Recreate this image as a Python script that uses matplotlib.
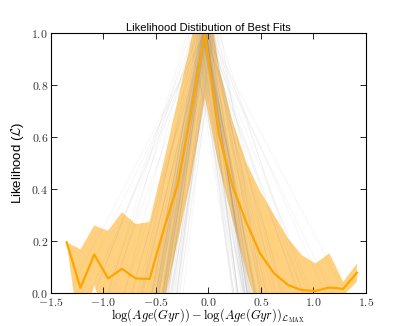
import numpy as np
import matplotlib
matplotlib.use("Agg")
import matplotlib.pyplot as plt
from matplotlib.ticker import FuncFormatter

plt.rcParams['mathtext.fontset'] = 'cm'

# binned likelihood (mean and 1-sigma band)
x_bins = [-1.35, -1.218, -1.087, -0.955, -0.823, -0.692, -0.560, -0.428, -0.296,
          -0.165, -0.033, 0.098, 0.230, 0.362, 0.494, 0.625, 0.757, 0.889,
          1.020, 1.152, 1.284, 1.415]
mean_L = [0.194, 0.019, 0.147, 0.055, 0.092, 0.055, 0.053, 0.24, 0.41,
          0.69, 1.0, 0.61, 0.41, 0.27, 0.15, 0.075, 0.03, 0.01,
          0.007, 0.02, 0.015, 0.077]
upper_L = [0.194, 0.167, 0.259, 0.238, 0.31, 0.264, 0.272, 0.50, 0.735,
           0.97, 1.25, 0.87, 0.66, 0.50, 0.39, 0.30, 0.21, 0.145,
           0.113, 0.152, 0.042, 0.113]
lower_L = [0.194, -0.185, 0.03, -0.13, -0.13, -0.15, -0.17, -0.05, 0.19,
           0.44, 0.75, 0.49, 0.28, 0.08, -0.10, -0.15, -0.14, -0.12,
           -0.10, -0.10, -0.012, 0.042]

# individual fits: peak offset, left and right half-widths of each curve
fit_peak = [-0.03, -0.05, 0.0, -0.08, 0.02, -0.03, -0.1, 0.03, -0.04, -0.06,
            -0.02, 0.01, -0.03, -0.07, 0.04, -0.05, -0.01, -0.03, -0.12, 0.0,
            -0.03, -0.04, 0.02, -0.09, -0.03, -0.02, 0.05, -0.06, -0.03, -0.01,
            -0.03, -0.15, 0.08, -0.03, -0.05, 0.0, -0.2, 0.1, -0.03, -0.04,
            -0.02, -0.06, 0.01, -0.04, -0.03, -0.08, 0.03, -0.01, -0.05, -0.03,
            0.0, -0.07, -0.02, -0.04, 0.02, -0.03, -0.11, 0.05, -0.03, -0.06,
            -0.01, -0.04, -0.03, 0.01, -0.09, -0.02, -0.03, 0.04, -0.05, -0.03,
            -0.13, 0.06, -0.03, -0.02, -0.04, 0.0, -0.18, 0.12, -0.03, -0.05]
fit_left = [0.38, 0.42, 0.30, 0.45, 0.36, 0.50, 0.40, 0.33, 0.55, 0.44,
            0.39, 0.35, 0.60, 0.47, 0.31, 0.43, 0.37, 0.70, 0.52, 0.41,
            0.34, 0.46, 0.32, 0.58, 0.90, 0.40, 0.29, 0.48, 1.10, 0.37,
            0.42, 0.65, 0.36, 1.30, 0.45, 0.80, 0.75, 0.50, 0.39, 0.43,
            0.41, 0.37, 0.44, 0.35, 0.49, 0.40, 0.32, 0.46, 0.38, 0.53,
            0.36, 0.42, 0.62, 0.39, 0.34, 0.47, 0.85, 0.40, 0.45, 0.38,
            0.43, 0.31, 0.51, 0.40, 1.00, 0.37, 0.44, 0.35, 0.68, 0.41,
            0.95, 0.39, 0.46, 0.36, 1.20, 0.42, 0.72, 0.48, 0.38, 0.57]
fit_right = [0.40, 0.36, 0.44, 0.31, 0.48, 0.38, 0.34, 0.52, 0.42, 0.30,
             0.46, 0.39, 0.35, 0.57, 0.41, 0.33, 0.62, 0.37, 0.45, 0.85,
             0.43, 0.32, 0.50, 0.36, 0.40, 1.00, 0.47, 0.35, 0.44, 0.70,
             1.20, 0.39, 0.55, 0.42, 0.95, 0.38, 0.60, 0.80, 0.48, 0.41,
             0.37, 0.45, 0.33, 0.49, 0.40, 0.36, 0.54, 0.42, 0.39, 0.75,
             0.44, 0.35, 0.41, 0.90, 0.38, 0.46, 0.34, 0.65, 0.40, 0.43,
             0.36, 0.50, 0.39, 1.10, 0.42, 0.37, 0.58, 0.45, 0.33, 0.47,
             0.40, 0.88, 0.36, 0.44, 0.41, 1.30, 0.52, 0.38, 0.68, 0.43]

xticks = [-1.5, -1.0, -0.5, 0.0, 0.5, 1.0, 1.5]
yticks = [0.0, 0.2, 0.4, 0.6, 0.8, 1.0]

fig = plt.figure(figsize=(4.07, 3.26), dpi=100)
ax = fig.add_axes([0.125, 0.102, 0.774, 0.798])

for p, l, r in zip(fit_peak, fit_left, fit_right):
    ax.plot([p - l, p, p + r], [0.0, 1.0, 0.0], color='grey', lw=0.6, alpha=0.08)

ax.fill_between(x_bins, lower_L, upper_L, color='orange', alpha=0.5, lw=0)
ax.plot(x_bins, mean_L, color='orange', lw=1.6)

ax.set_xlim(-1.5, 1.5)
ax.set_ylim(0.0, 1.0)
ax.set_xticks(xticks)
ax.set_yticks(yticks)
fmt = FuncFormatter(lambda v, pos: r"$%.1f$" % v)
ax.xaxis.set_major_formatter(fmt)
ax.yaxis.set_major_formatter(fmt)
ax.tick_params(direction='in', top=True, right=True, length=4, width=0.6,
               labelsize=8.5, pad=2, labelcolor='#333333')
for s in ax.spines.values():
    s.set_linewidth(0.8)

ax.set_title("Likelihood Distibution of Best Fits", fontsize=8,
             family='Liberation Sans', pad=1)
ax.set_ylabel(r"Likelihood ($\mathcal{L}$)", fontsize=9.5, family='Liberation Sans')
ax.set_xlabel(r"$\log(Age(Gyr)) - \log(Age(Gyr))_{\mathcal{L}_{\rm MAX}}$",
              fontsize=9, labelpad=-1)

fig.savefig("out.png", dpi=100)
